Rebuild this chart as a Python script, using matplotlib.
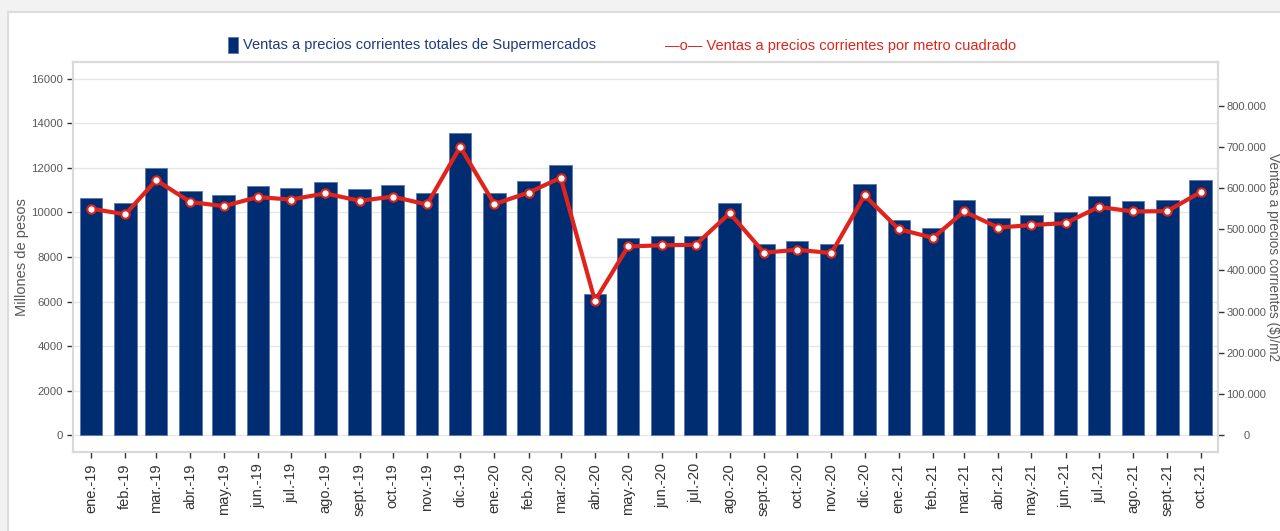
import matplotlib
matplotlib.use('Agg')
import matplotlib.pyplot as plt
import matplotlib.dates as mdates
from matplotlib.patches import Rectangle
import pandas as pd

months = ['ene.-19', 'feb.-19', 'mar.-19', 'abr.-19', 'may.-19', 'jun.-19', 'jul.-19',
          'ago.-19', 'sept.-19', 'oct.-19', 'nov.-19', 'dic.-19',
          'ene.-20', 'feb.-20', 'mar.-20', 'abr.-20', 'may.-20', 'jun.-20', 'jul.-20',
          'ago.-20', 'sept.-20', 'oct.-20', 'nov.-20', 'dic.-20',
          'ene.-21', 'feb.-21', 'mar.-21', 'abr.-21', 'may.-21', 'jun.-21', 'jul.-21',
          'ago.-21', 'sept.-21', 'oct.-21']

totals = [10674, 10418, 11991, 10971, 10777, 11213, 11092, 11393, 11047, 11258, 10881, 13578,
          10881, 11407, 12140, 6333, 8876, 8960, 8955, 10449, 8606, 8726, 8575, 11303,
          9685, 9281, 10553, 9775, 9910, 10000, 10748, 10524, 10568, 11447]

per_m2 = [550000, 536000, 619000, 566000, 556000, 578000, 572000, 587000, 569000, 579000, 560000, 700000,
          561000, 589000, 625000, 326000, 458000, 461000, 462000, 539000, 443000, 450000, 442000, 582000,
          500000, 479000, 543000, 504000, 510000, 515000, 554000, 543000, 544000, 590000]

left_ticks = list(range(0, 16001, 2000))
right_ticks = list(range(0, 800001, 100000))
right_tick_labels = ['0', '100.000', '200.000', '300.000', '400.000', '500.000', '600.000', '700.000', '800.000']

plt.rcParams['font.family'] = ['Liberation Sans', 'DejaVu Sans']

dates = pd.date_range('2019-01-01', periods=len(months), freq='MS').to_pydatetime()

W, H = 1280, 531
fig = plt.figure(figsize=(W / 100, H / 100), dpi=100, facecolor='#f2f2f2')
panel = Rectangle((8 / W, -0.05), 1.1, 1.05 - 12 / H, transform=fig.transFigure,
                  facecolor='white', edgecolor='#dcdcdc', lw=1.5, zorder=-10)
fig.patches.append(panel)

ax = fig.add_axes([73 / W, 1 - 452 / H, (1218 - 73) / W, (452 - 62) / H])
bar_color = '#002d72'
ax.bar(dates, totals, width=20.4, color=bar_color, edgecolor='#5a78b0', linewidth=0.6, zorder=2)
ax.set_ylim(-764, 16764)
ax.set_yticks(left_ticks)
ax.set_yticklabels([str(v) for v in left_ticks])
ax.grid(axis='y', color='#e6e6e6', lw=1, zorder=0)
ax.set_axisbelow(True)
x0 = mdates.date2num(dates[0]) - 16.3
x1 = mdates.date2num(dates[-1]) + 15.8
ax.set_xlim(x0, x1)
ax.set_xticks(dates)
ax.set_xticklabels(months, rotation=90, fontsize=10.5, color='#333333')
ax.tick_params(axis='x', length=4, width=1, color='#333333', pad=4)
ax.tick_params(axis='y', length=4, width=1, color='#333333', pad=3, labelsize=8.2, labelcolor='#595959')
for s in ax.spines.values():
    s.set_color('#d9d9d9')
    s.set_linewidth(1.5)

ax2 = ax.twinx()
red = '#e0241b'
ax2.plot(dates, per_m2, color=red, lw=3, marker='o', ms=6, mfc='white', mec=red, mew=1.5, zorder=3,
         solid_joinstyle='round')
ax2.set_ylim(-41300, 906200)
ax2.set_yticks(right_ticks)
ax2.set_yticklabels(right_tick_labels)
ax2.tick_params(axis='y', length=4, width=1, color='#333333', pad=16.5, labelsize=8, labelcolor='#595959')
for lbl in ax2.get_yticklabels():
    lbl.set_horizontalalignment('center')
for s in ax2.spines.values():
    s.set_color('#d9d9d9')
    s.set_linewidth(1.5)

fig.text(22 / W, 1 - 257 / H, 'Millones de pesos', rotation=90, ha='center', va='center',
         fontsize=10.5, color='#595959')
fig.text(1273 / W, 1 - 257 / H, 'Ventas a precios corrientes ($)/m2', rotation=270, ha='center', va='center',
         fontsize=9.8, color='#595959')

# legend
fig.patches.append(Rectangle((228 / W, 1 - 53 / H), 10 / W, 16 / H, transform=fig.transFigure,
                             facecolor=bar_color, edgecolor='#5a78b0', lw=0.6, zorder=3))
fig.text(243 / W, 1 - 45 / H, 'Ventas a precios corrientes totales de Supermercados', ha='left', va='center',
         fontsize=10.5, color='#1f3a7a')
fig.text(665 / W, 1 - 46 / H, '\u2014o\u2014 Ventas a precios corrientes por metro cuadrado', ha='left', va='center',
         fontsize=10.5, color=red)

fig.savefig('out.png', dpi=100, facecolor=fig.get_facecolor())
